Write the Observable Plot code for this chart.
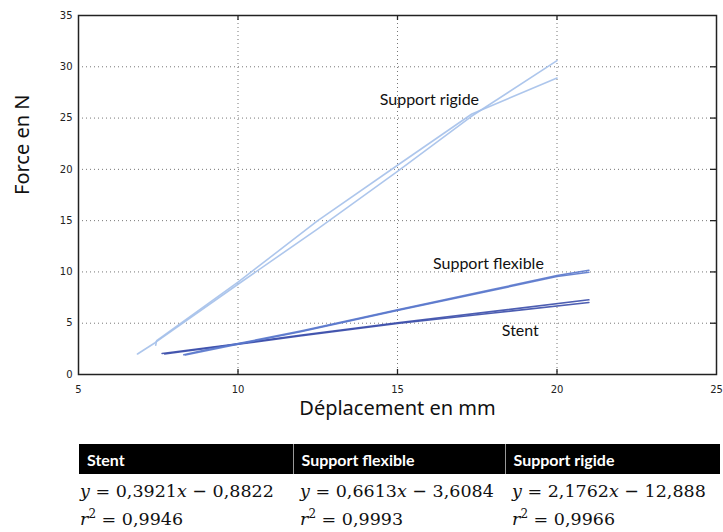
<!DOCTYPE html>
<html>
<head>
<meta charset="utf-8">
<script src="https://cdn.jsdelivr.net/npm/d3@7"></script>
<script src="https://cdn.jsdelivr.net/npm/@observablehq/plot@0.6"></script>
<style>
  body { margin: 0; background: #fff; width: 723px; height: 532px; position: relative; overflow: hidden; }
  #chart { position: absolute; left: 0; top: 0; }
  table { position: absolute; left: 79px; top: 444px; width: 641px; border-collapse: collapse; table-layout: fixed; }
  th { background: #000; color: #fff; font: bold 16px Lato, sans-serif; text-align: left; padding: 0 0 0 8px; height: 30px; border-left: 1px solid #999; }
  th:first-child { border-left: none; }
  td { font: 17.5px "DejaVu Serif", serif; color: #111; padding: 0 0 0 7px; white-space: nowrap; }
  td:first-child { padding-left: 1px; }
  tr.r1 td { height: 34px; vertical-align: middle; }
  tr.r2 td { height: 22px; vertical-align: middle; }
  sup { font-size: 12px; line-height: 0; }
</style>
</head>
<body>
<div id="chart"></div>
<table>
  <colgroup><col style="width:214px"><col style="width:212px"><col style="width:215px"></colgroup>
  <thead><tr id="head"></tr></thead>
  <tbody>
    <tr class="r1" id="eqRow"></tr>
    <tr class="r2" id="r2Row"></tr>
  </tbody>
</table>
<script>
// ---- data ----
const seriesNames = ["Stent", "Support flexible", "Support rigide"];
const seriesColors = ["#3a4daa", "#5a78cc", "#a4c0ea"];
const slopes = ["0,3921", "0,6613", "2,1762"];
const intercepts = ["0,8822", "3,6084", "12,888"];
const r2Values = ["0,9946", "0,9993", "0,9966"];
const xTicks = [5, 10, 15, 20, 25];
const yTicks = [0, 5, 10, 15, 20, 25, 30, 35];

// measured runs [deplacement mm, force N]
const stentRun1 = [[7.62, 2.05], [10, 3.0], [12, 3.85], [15, 5.05], [18, 6.15], [21, 7.28]];
const stentRun2 = [[7.7, 2.0], [10, 2.95], [12, 3.78], [15, 4.98], [18, 6.0], [21, 7.02]];
const flexRun1 = [[8.3, 1.92], [9.0, 2.42], [10, 3.02], [12, 4.25], [15, 6.3], [18, 8.3], [20, 9.65], [21, 10.17]];
const flexRun2 = [[8.35, 1.9], [10, 2.95], [12, 4.2], [15, 6.25], [18, 8.22], [20, 9.55], [21, 9.97]];
const rigidRun1 = [[6.85, 2.0], [7.4, 3.1], [10, 8.8], [12.5, 14.2], [15, 19.8], [17.33, 25.2], [20, 30.6]];
const rigidRun2 = [[7.42, 2.85], [7.45, 3.3], [10, 9.0], [12.5, 15.0], [15, 20.4], [17.33, 25.4], [20, 28.9]];

const annotations = [
  {text: "Support rigide", x: 16.0, y: 26.8},
  {text: "Support flexible", x: 17.85, y: 10.8},
  {text: "Stent", x: 18.85, y: 4.3}
];

// ---- build table for plot ----
const runs = [
  ["Stent", "s1", stentRun1], ["Stent", "s2", stentRun2],
  ["Support flexible", "f1", flexRun1], ["Support flexible", "f2", flexRun2],
  ["Support rigide", "r1", rigidRun1], ["Support rigide", "r2", rigidRun2]
];
const points = runs.flatMap(([series, run, pts]) => pts.map(([x, y]) => ({series, run, x, y})));

const H = 432, mt = 15, mb = 58;
const ph = H - mt - mb;

const plot = Plot.plot({
  width: 723,
  height: H,
  marginLeft: 78,
  marginRight: 7,
  marginTop: mt,
  marginBottom: mb,
  style: {fontFamily: "DejaVu Sans", fontSize: "10px", color: "#222", background: "#fff"},
  x: {domain: [5, 25], ticks: xTicks},
  y: {domain: [0, 35], ticks: yTicks},
  color: {domain: seriesNames, range: seriesColors},
  marks: [
    Plot.gridX(xTicks.slice(1, -1), {stroke: "#777", strokeOpacity: 1, strokeDasharray: "1,3"}),
    Plot.gridY(yTicks.slice(1, -1), {stroke: "#777", strokeOpacity: 1, strokeDasharray: "1,3"}),
    Plot.tickX(xTicks.slice(1, -1), {x: d => d, insetTop: ph - 5, stroke: "#222", strokeWidth: 1.3}),
    Plot.tickX(xTicks.slice(1, -1), {x: d => d, insetBottom: ph - 5, stroke: "#222", strokeWidth: 1.3}),
    Plot.tickY(yTicks.slice(1, -1), {y: d => d, insetLeft: 638 - 6, stroke: "#222", strokeWidth: 1.3}),
    Plot.axisX(xTicks, {tickSize: 0, tickPadding: 11, fill: "#222", label: null}),
    Plot.axisY(yTicks, {tickSize: 0, tickPadding: 6, fill: "#222", label: null}),
    Plot.line(points, {x: "x", y: "y", z: "run", stroke: "series", strokeWidth: 1.6, strokeOpacity: 0.9}),
    Plot.frame({stroke: "#222", strokeWidth: 1.5}),
    Plot.text(annotations, {x: "x", y: "y", text: "text", fontFamily: "Lato", fontSize: 16, fill: "#111"}),
    Plot.text(["Déplacement en mm"], {frameAnchor: "bottom", dy: 40, fontFamily: "Noto Sans", fontSize: 20, fill: "#111"}),
    Plot.text(["Force en N"], {frameAnchor: "left", dx: -56, rotate: -90, fontFamily: "Noto Sans", fontSize: 20, fill: "#111"})
  ]
});
document.getElementById("chart").appendChild(plot);

// ---- table ----
const head = document.getElementById("head");
const eqRow = document.getElementById("eqRow");
const r2Row = document.getElementById("r2Row");
seriesNames.forEach((name, i) => {
  const th = document.createElement("th"); th.textContent = name; head.appendChild(th);
  const td = document.createElement("td");
  td.innerHTML = `<i>y</i> = ${slopes[i]}<i>x</i> &minus; ${intercepts[i]}`;
  eqRow.appendChild(td);
  const td2 = document.createElement("td");
  td2.innerHTML = `<i>r</i><sup>2</sup> = ${r2Values[i]}`;
  r2Row.appendChild(td2);
});
</script>
</body>
</html>
